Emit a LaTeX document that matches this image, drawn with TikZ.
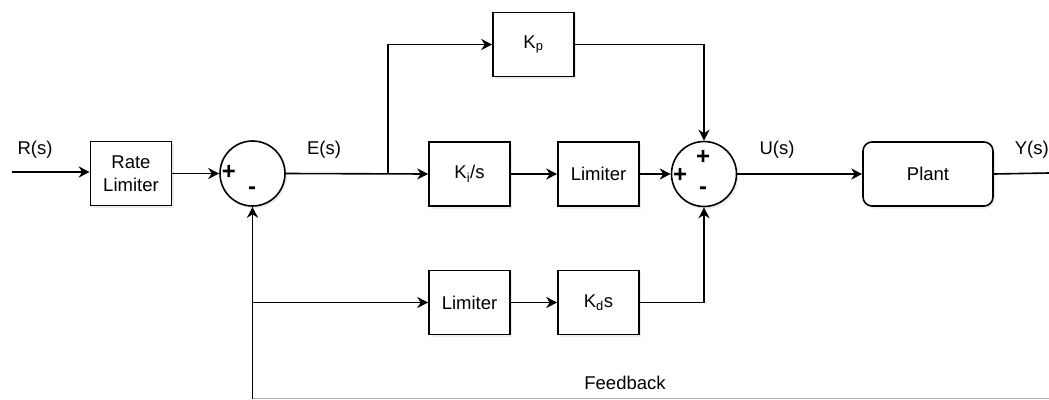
\documentclass[tikz,border=0pt]{standalone}
\usepackage{fontspec}
\setmainfont{Liberation Sans}
\usetikzlibrary{arrows.meta,shadows}
\begin{document}
\begin{tikzpicture}[x=1pt,y=-1pt,
  font=\fontsize{18.5}{23}\selectfont,
  line width=1.6pt,
  arr/.style={-{Stealth[length=11pt,width=11pt,inset=3.5pt]}},
  blk/.style={draw, fill=white, minimum width=81pt, minimum height=64pt, inner sep=0pt, align=center,
    drop shadow={opacity=0.15, shadow xshift=2pt, shadow yshift=-2.5pt}},
  sumc/.style={draw, fill=white, circle, minimum size=65pt, inner sep=0pt,
    drop shadow={opacity=0.15, shadow xshift=2pt, shadow yshift=-2.5pt}},
  sgn/.style={inner sep=0pt, font=\fontsize{24}{24}\selectfont\bfseries},
  lbl/.style={inner sep=0pt}]
\useasboundingbox (0,0) rectangle (1049,399);
% nodes
\coordinate (in) at (12,172);
\node[blk] (rl) at (131,173.5) {Rate\\Limiter};
\node[sumc] (s1) at (252.5,173.5) {};
\node[blk] (ki) at (469.5,174) {K\textsubscript{i}/s};
\node[blk] (lim1) at (598.5,174) {Limiter};
\node[blk] (kp) at (533.5,44.5) {K\textsubscript{p}};
\node[sumc] (s2) at (704,174) {};
\node[blk, rounded corners=9pt, minimum width=130pt] (plant) at (928,174) {Plant};
\node[blk] (lim2) at (469.5,302.5) {Limiter};
\node[blk] (kd) at (598.5,302.5) {K\textsubscript{d}s};
\coordinate (out) at (1049,173);
\coordinate (br) at (388,174);
\coordinate (fbb) at (252.5,399);
\coordinate (fbj) at (252.5,302.5);
% signs
\node[sgn] at (229,172) {+};
\node[sgn] at (252,191) {-};
\node[sgn] at (703,157) {+};
\node[sgn] at (680,175) {+};
\node[sgn] at (703,191) {-};
% labels
\node[lbl] at (35,150) {R(s)};
\node[lbl] at (324,150) {E(s)};
\node[lbl] at (777,150) {U(s)};
\node[lbl, anchor=west] at (1014,150) {Y(s)};
\node[lbl] at (625,383) {Feedback};
% connectors
\draw[arr] (in) -- (rl.west |- in);
\draw[arr] (rl.east) -- (s1.west);
\draw[arr] (s1.east) -- (ki.west);
\draw[arr] (br) |- (kp.west);
\draw[arr] (ki.east) -- (lim1.west);
\draw[arr] (lim1.east) -- (s2.west);
\draw[arr] (kp.east) -| (s2.north);
\draw[arr] (kd.east) -| (s2.south);
\draw[arr] (s2.east) -- (plant.west);
\draw (plant.east) -- (out);
\draw[arr] (fbb) -- (s1.south);
\draw[arr] (fbj) -- (lim2.west);
\draw[arr] (lim2.east) -- (kd.west);
\draw[gray!60, line width=1pt] (fbb |- 0,398) -- (1049,398);
\end{tikzpicture}
\end{document}
